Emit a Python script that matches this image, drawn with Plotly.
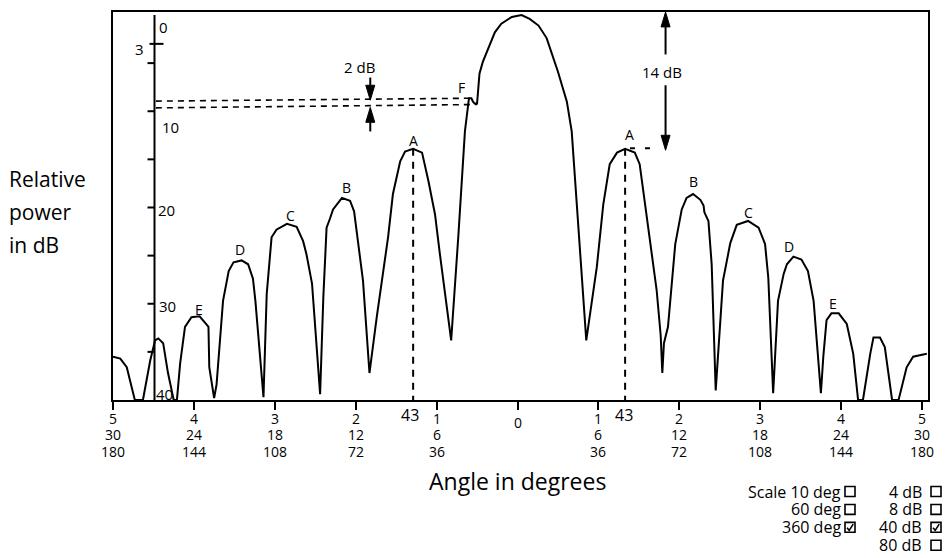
import plotly.graph_objects as go

# ---------------- data (angle in scale units, relative power in dB) ----------------
angle = [-5.00,-4.91,-4.83,-4.73,-4.63,-4.54,-4.48,-4.44,-4.38,-4.32,
         -4.25,-4.21,-4.17,-4.11,-4.03,-3.93,-3.85,-3.82,-3.81,-3.78,
         -3.75,-3.72,-3.64,-3.57,-3.51,-3.41,-3.33,-3.27,-3.24,-3.14,
         -3.10,-3.04,-2.98,-2.85,-2.73,-2.65,-2.61,-2.54,-2.44,-2.40,
         -2.36,-2.32,-2.28,-2.17,-2.07,-2.02,-1.97,-1.91,-1.83,-1.74,
         -1.60,-1.54,-1.45,-1.39,-1.29,-1.18,-1.10,-1.02,-0.96,-0.82,
         -0.73,-0.65,-0.60,-0.57,-0.55,-0.53,-0.50,-0.49,-0.47,-0.43,
         -0.38,-0.28,-0.20,-0.07,0.05,0.15,0.26,0.36,0.50,0.61,
         0.67,0.85,0.98,1.06,1.14,1.23,1.33,1.45,1.51,1.55,
         1.62,1.72,1.77,1.79,1.81,1.86,1.95,2.03,2.09,2.17,
         2.26,2.30,2.31,2.36,2.40,2.45,2.54,2.63,2.71,2.85,
         2.98,3.06,3.10,3.16,3.22,3.29,3.33,3.41,3.51,3.59,
         3.66,3.75,3.78,3.82,3.88,3.97,4.07,4.15,4.21,4.27,
         4.36,4.40,4.48,4.54,4.63,4.71,4.81,4.89,5.00,5.06]
power_db = [35.5,35.7,36.6,40.0,40.0,35.9,33.8,33.6,34.1,37.2,
            40.0,40.0,36.2,32.4,31.4,31.3,32.1,32.4,36.6,38.1,
            39.8,38.4,29.7,26.6,25.7,25.5,25.9,27.4,29.7,39.7,
            29.0,23.1,22.3,21.7,22.0,23.5,24.8,27.9,39.4,29.3,
            22.1,21.2,20.2,19.0,19.3,20.4,23.5,27.6,37.2,31.4,
            23.1,18.6,15.2,14.2,13.9,14.3,17.3,20.7,24.8,33.8,
            22.8,12.1,8.65,8.65,9.0,9.2,9.2,8.0,6.1,4.9,
            3.8,1.8,0.9,0.2,0.0,0.4,1.1,2.4,5.9,9.0,
            12.1,33.8,26.2,19.7,15.5,14.3,13.9,14.3,15.5,18.0,
            22.1,28.6,33.3,37.2,34.1,32.4,23.8,20.2,19.0,18.6,
            19.2,19.8,20.5,21.4,25.9,39.0,27.6,23.7,21.8,21.4,
            22.1,23.8,27.3,39.3,29.7,26.9,25.9,25.1,25.4,26.6,
            29.7,39.3,35.5,31.7,31.0,31.0,32.1,35.2,40.0,40.0,
            35.2,33.5,33.5,34.5,40.0,40.0,36.6,35.5,35.3,35.2]

# x tick labels (three scales: 10 deg, 60 deg, 360 deg)
x_ticks = [-5, -4, -3, -2, -1, 0, 1, 2, 3, 4, 5]
x_lbl_10 = ["5", "4", "3", "2", "1", "0", "1", "2", "3", "4", "5"]
x_lbl_60 = ["30", "24", "18", "12", "6", "", "6", "12", "18", "24", "30"]
x_lbl_360 = ["180", "144", "108", "72", "36", "", "36", "72", "108", "144", "180"]

# inner dB axis
db_axis_x = -4.487
db_minor_ticks = [5, 10, 15, 20, 25, 30, 35]
db_3_tick = 3
db_labels = ["0", "3", "10", "20", "30", "40"]
db_label_x = [-4.37, -4.67, -4.29, -4.34, -4.33, -4.36]
db_label_y = [1.25, 3.5, 11.6, 20.3, 30.25, 39.4]

# side-lobe letters
peak_names = ["E", "D", "C", "B", "A", "F", "A", "B", "C", "D", "E"]
peak_name_x = [-3.94, -3.43, -2.80, -2.12, -1.28, -0.69, 1.38, 2.17, 2.86, 3.36, 3.90]
peak_name_db = [30.6, 24.4, 20.8, 17.95, 13.05, 7.5, 12.4, 17.3, 20.5, 24.1, 30.0]

# first side-lobe (A) markers, "43" deg
a_peak_x = [-1.29, 1.33]
a_peak_db = 13.9
a_label_x = [-1.33, 1.32]

# 2 dB reference lines (F lobe vs. null)
ref_upper_x = [-4.47, -0.59]
ref_upper_db = [8.95, 8.65]
ref_lower_x = [-4.47, -0.50]
ref_lower_db = [9.65, 9.3]
two_db_x = -1.82
fourteen_db_x = 1.83

# scale selector
scale_opts = ["Scale 10 deg", "60 deg", "360 deg"]
scale_checked = [False, False, True]
range_opts = ["4 dB", "8 dB", "40 dB", "80 dB"]
range_checked = [False, False, True, False]

PX_X = 80.9    # pixels per angle unit
PX_Y = 9.675   # pixels per dB

FONT = "Open Sans"

fig = go.Figure()

fig.add_trace(go.Scatter(x=angle, y=power_db, mode="lines",
                         line=dict(color="black", width=2), hoverinfo="skip",
                         cliponaxis=False))

# dashed verticals under A lobes
for xv in a_peak_x:
    fig.add_trace(go.Scatter(x=[xv, xv], y=[a_peak_db, 40], mode="lines",
                             line=dict(color="black", width=2, dash="7px,6px"),
                             hoverinfo="skip"))
# dashed stub from right A to the 14 dB arrow
fig.add_trace(go.Scatter(x=[a_peak_x[1] + 0.06, fourteen_db_x - 0.14], y=[a_peak_db - 0.05, a_peak_db - 0.05],
                         mode="lines", line=dict(color="black", width=2, dash="5px,10px"),
                         hoverinfo="skip"))
# 2 dB reference lines
fig.add_trace(go.Scatter(x=ref_upper_x, y=ref_upper_db, mode="lines",
                         line=dict(color="black", width=1.6, dash="6px,5px"), hoverinfo="skip"))
fig.add_trace(go.Scatter(x=ref_lower_x, y=ref_lower_db, mode="lines",
                         line=dict(color="black", width=1.6, dash="6px,5px"), hoverinfo="skip"))

shapes = []
# inner dB axis
shapes.append(dict(type="line", xref="x", yref="y", x0=db_axis_x, x1=db_axis_x, y0=0, y1=40,
                   line=dict(color="black", width=2)))
for t in db_minor_ticks:
    shapes.append(dict(type="line", xref="x", yref="y", x0=db_axis_x - 7 / PX_X, x1=db_axis_x,
                       y0=t, y1=t, line=dict(color="black", width=2)))
shapes.append(dict(type="line", xref="x", yref="y", x0=db_axis_x - 5 / PX_X, x1=db_axis_x + 9 / PX_X,
                   y0=db_3_tick, y1=db_3_tick, line=dict(color="black", width=2)))


def v_arrow(x, tail, tip):
    d = 1 if tip > tail else -1
    head = 15 / PX_Y
    base = tip - d * head
    hw = 4.5 / PX_X
    shapes.append(dict(type="line", xref="x", yref="y", x0=x, x1=x, y0=tail, y1=base,
                       line=dict(color="black", width=2)))
    shapes.append(dict(type="path", xref="x", yref="y",
                       path=f"M {x - hw},{base} L {x + hw},{base} L {x},{tip} Z",
                       fillcolor="black", line=dict(color="black", width=1)))


v_arrow(two_db_x, 6.5, ref_upper_db[0] - 0.1)
v_arrow(two_db_x, 12.1, ref_lower_db[0] - 0.05)
v_arrow(fourteen_db_x, 4.1, -0.31)
v_arrow(fourteen_db_x, 7.3, a_peak_db + 0.15)


def px_paper(px, py):
    return (px - 113) / 815, (400 - py) / 390


def checkbox(cx, cy, checked):
    x0, y0 = px_paper(cx - 5, cy + 5)
    x1, y1 = px_paper(cx + 5, cy - 5)
    shapes.append(dict(type="rect", xref="paper", yref="paper", x0=x0, y0=y0, x1=x1, y1=y1,
                       line=dict(color="black", width=1.6), fillcolor="white"))
    if checked:
        a = px_paper(cx - 3, cy + 0.5)
        b = px_paper(cx - 0.8, cy + 3)
        c = px_paper(cx + 3.2, cy - 3.2)
        shapes.append(dict(type="path", xref="paper", yref="paper",
                           path=f"M {a[0]},{a[1]} L {b[0]},{b[1]} L {c[0]},{c[1]}",
                           line=dict(color="black", width=1.6)))


ann = []
# x tick labels
for xv, a, b, c in zip(x_ticks, x_lbl_10, x_lbl_60, x_lbl_360):
    if xv == 0:
        ann.append(dict(x=xv, y=0, xref="x", yref="paper", text=a, showarrow=False,
                        yanchor="middle", yshift=-22, font=dict(size=14)))
        continue
    for txt, sh in ((a, -18), (b, -34), (c, -51)):
        ann.append(dict(x=xv, y=0, xref="x", yref="paper", text=txt, showarrow=False,
                        yanchor="middle", yshift=sh, font=dict(size=14)))
for xv in a_label_x:
    ann.append(dict(x=xv, y=0, xref="x", yref="paper", text="43", showarrow=False,
                    yanchor="middle", yshift=-15, font=dict(size=16)))
# dB labels
for t, xv, yv in zip(db_labels, db_label_x, db_label_y):
    ann.append(dict(x=xv, y=yv, xref="x", yref="y", text=t, showarrow=False, font=dict(size=15)))
# peak letters
for t, xv, yv in zip(peak_names, peak_name_x, peak_name_db):
    ann.append(dict(x=xv, y=yv, xref="x", yref="y", text=t, showarrow=False, font=dict(size=14)))
ann.append(dict(x=two_db_x - 0.13, y=5.45, xref="x", yref="y", text="2 dB", showarrow=False,
                font=dict(size=15)))
ann.append(dict(x=fourteen_db_x - 0.05, y=5.95, xref="x", yref="y", text="14 dB", showarrow=False,
                font=dict(size=15)))

# axis titles
tx, ty = px_paper(517, 481)
ann.append(dict(x=tx, y=ty, xref="paper", yref="paper", text="Angle in degrees",
                showarrow=False, xanchor="center", yanchor="middle", font=dict(size=23)))
for i, t in enumerate(["Relative", "power", "in dB"]):
    lx, ly = px_paper(7, 178 + 33 * i)
    ann.append(dict(x=lx, y=ly, xref="paper", yref="paper", text=t, showarrow=False,
                    xanchor="left", yanchor="middle", font=dict(size=21)))

# scale selection box
row_py = [492, 510, 528, 546]
for txt, chk, py in zip(scale_opts, scale_checked, row_py):
    x0, y0 = px_paper(843, py)
    ann.append(dict(x=x0, y=y0, xref="paper", yref="paper", text=txt, showarrow=False,
                    xanchor="right", yanchor="middle", font=dict(size=16)))
    checkbox(850, py, chk)
for txt, chk, py in zip(range_opts, range_checked, row_py):
    x0, y0 = px_paper(924, py)
    ann.append(dict(x=x0, y=y0, xref="paper", yref="paper", text=txt, showarrow=False,
                    xanchor="right", yanchor="middle", font=dict(size=16)))
    checkbox(936, py, chk)

fig.update_layout(
    width=949, height=558,
    margin=dict(l=113, r=21, t=10, b=158),
    paper_bgcolor="white", plot_bgcolor="white",
    showlegend=False,
    font=dict(family=FONT, color="black"),
    shapes=shapes, annotations=ann,
    xaxis=dict(range=[-5, 5.074], showgrid=False, zeroline=False, showline=True, mirror=True,
               linecolor="black", linewidth=2, ticks="outside", tickvals=x_ticks, ticklen=8,
               tickwidth=2, tickcolor="black", showticklabels=False),
    yaxis=dict(range=[40, -0.31], showgrid=False, zeroline=False, showline=True, mirror=True,
               linecolor="black", linewidth=2, ticks="", showticklabels=False),
)

fig.write_html("out.html", config={"displayModeBar": False},
               post_script="document.body.style.margin='0';document.body.style.overflow='hidden';")
